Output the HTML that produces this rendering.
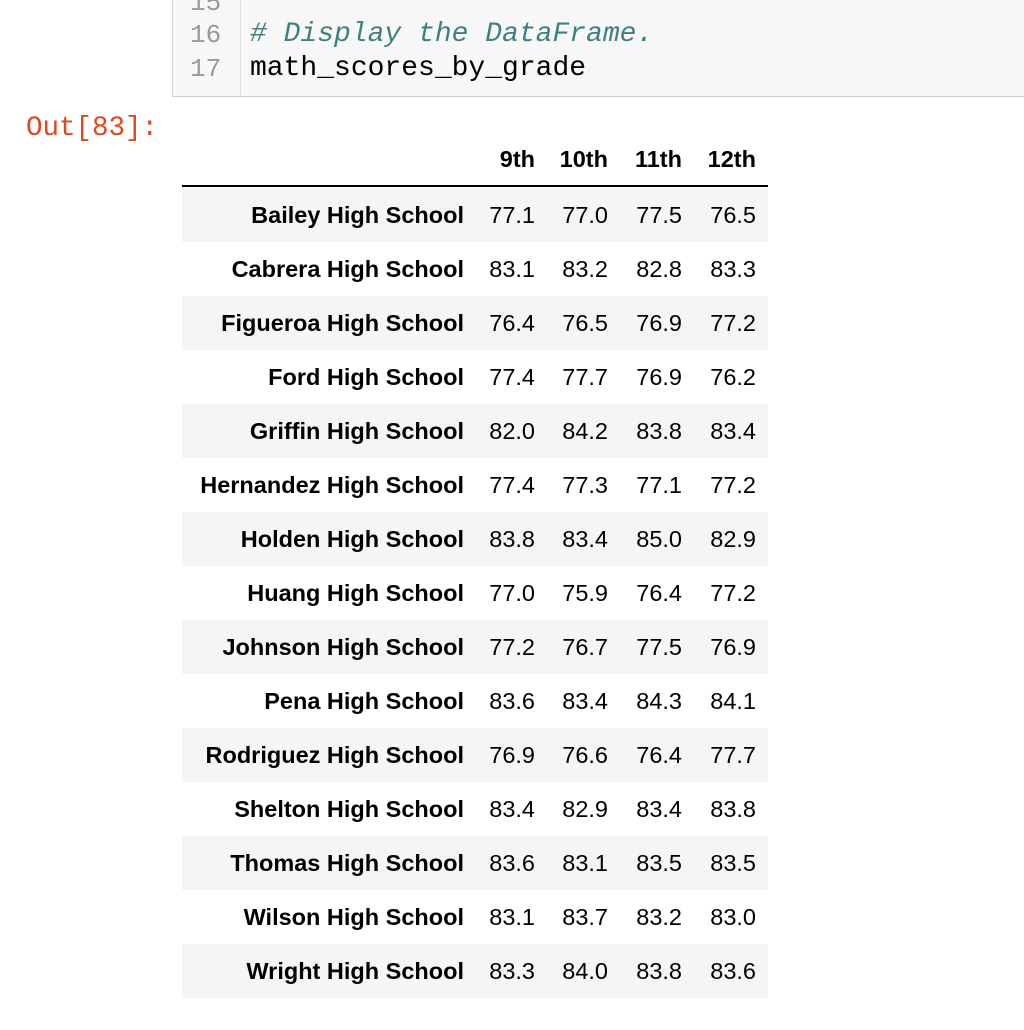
<!DOCTYPE html>
<html><head><meta charset="utf-8"><style>
body{margin:0;width:1024px;height:1030px;background:#fff;position:relative;overflow:hidden;font-family:"Liberation Sans",sans-serif}
#cell{position:absolute;left:172px;top:-10px;width:870px;height:106px;background:#f7f7f7;border:1px solid #cfcfcf;border-top:none}
#gutter{position:absolute;left:240px;top:-10px;width:1px;height:106px;background:#ddd}
.ln{position:absolute;left:190px;font:26px "Liberation Mono",monospace;color:#999}
.code{position:absolute;left:250px;font:28px "Liberation Mono",monospace;color:#000;white-space:pre}
#out{position:absolute;left:26px;top:113px;font:27.5px "Liberation Mono",monospace;color:#d84a22}
.row{position:absolute;left:182px;width:586px;height:54px}
.c{position:absolute;top:0px;font-size:23.5px;line-height:54px;text-align:right;white-space:nowrap}
.idx{font-weight:bold}
</style></head><body>
<div id="cell"></div>
<div id="gutter"></div>
<div class="ln" style="top:-12px">15</div>
<div class="ln" style="top:20px">16</div>
<div class="ln" style="top:54px">17</div>
<div class="code" style="top:19px;color:#408080;font-style:italic"># Display the DataFrame.</div>
<div class="code" style="top:53px">math_scores_by_grade</div>
<div id="out">Out[83]:</div>
<div id="table"></div>
<script>
const grades=["9th","10th","11th","12th"];
const schools=["Bailey High School","Cabrera High School","Figueroa High School","Ford High School","Griffin High School","Hernandez High School","Holden High School","Huang High School","Johnson High School","Pena High School","Rodriguez High School","Shelton High School","Thomas High School","Wilson High School","Wright High School"];
const s9=["77.1","83.1","76.4","77.4","82.0","77.4","83.8","77.0","77.2","83.6","76.9","83.4","83.6","83.1","83.3"];
const s10=["77.0","83.2","76.5","77.7","84.2","77.3","83.4","75.9","76.7","83.4","76.6","82.9","83.1","83.7","84.0"];
const s11=["77.5","82.8","76.9","76.9","83.8","77.1","85.0","76.4","77.5","84.3","76.4","83.4","83.5","83.2","83.8"];
const s12=["76.5","83.3","77.2","76.2","83.4","77.2","82.9","77.2","76.9","84.1","77.7","83.8","83.5","83.0","83.6"];
const cols=[s9,s10,s11,s12];
const colRight=[353,426,500,574];
const t=document.getElementById('table');
function cell(parent,txt,right,cls){const d=document.createElement('div');d.className='c '+cls;d.style.right=(586-right)+'px';d.textContent=txt;parent.appendChild(d);return d;}
const hdr=document.createElement('div');hdr.className='row';hdr.style.top='132px';


grades.forEach((g,i)=>{const d=cell(hdr,g,colRight[i],'idx');

});
t.appendChild(hdr);
const line=document.createElement('div');line.style.cssText='position:absolute;left:182px;top:185px;width:586px;height:2px;background:#000';


t.appendChild(line);
schools.forEach((s,r)=>{const row=document.createElement('div');row.className='row';row.style.top=(188+r*54)+'px';row.style.background=r%2==0?'#f5f5f5':'#fff';


const d=cell(row,s,282,'idx');


cols.forEach((c,i)=>{const v=cell(row,c[r],colRight[i],'');

});
t.appendChild(row);});
</script>
</body></html>
